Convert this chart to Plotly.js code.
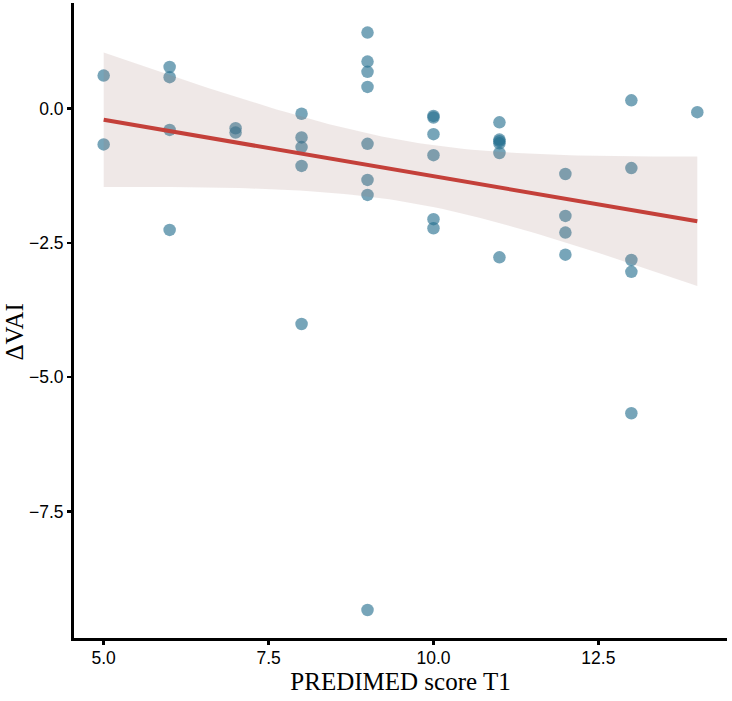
<!DOCTYPE html>
<html>
<head>
<meta charset="utf-8">
<script src="https://cdn.plot.ly/plotly-3.0.1.min.js"></script>
<style>
  html, body { margin: 0; padding: 0; background: #ffffff; }
  #chart { width: 732px; height: 701px; }
</style>
</head>
<body>
<div id="chart"></div>
<script>
// PREDIMED adherence score at T1 (x) against change in visceral adiposity index (y)
const predimedScore = [
  5, 5,
  6, 6, 6, 6,
  7, 7,
  8, 8, 8, 8, 8,
  9, 9, 9, 9, 9, 9, 9, 9,
  10, 10, 10, 10, 10, 10,
  11, 11, 11, 11, 11, 11,
  12, 12, 12, 12,
  13, 13, 13, 13, 13,
  14
];
const deltaVAI = [
  0.61, -0.67,
  0.77, 0.58, -0.40, -2.26,
  -0.37, -0.45,
  -0.10, -0.54, -0.72, -1.07, -4.01,
  1.41, 0.87, 0.68, 0.40, -0.66, -1.33, -1.61, -9.33,
  -0.14, -0.17, -0.48, -0.87, -2.06, -2.23,
  -0.26, -0.58, -0.61, -0.65, -0.83, -2.77,
  -1.22, -2.00, -2.31, -2.72,
  0.15, -1.11, -2.82, -3.04, -5.67,
  -0.07
];
const xTickLabels = ["5.0", "7.5", "10.0", "12.5"];
const xTickValues = [5, 7.5, 10, 12.5];
const yTickLabels = ["\u22127.5", "\u22125.0", "\u22122.5", "0.0"];
const yTickValues = [-7.5, -5, -2.5, 0];

// ---- ordinary least squares fit with 95% confidence band ----
function logGamma(z) {
  const g = 7;
  const c = [0.99999999999980993, 676.5203681218851, -1259.1392167224028,
    771.32342877765313, -176.61502916214059, 12.507343278686905,
    -0.13857109526572012, 9.9843695780195716e-6, 1.5056327351493116e-7];
  if (z < 0.5) return Math.log(Math.PI / Math.sin(Math.PI * z)) - logGamma(1 - z);
  z -= 1;
  let a = c[0];
  const t = z + g + 0.5;
  for (let i = 1; i < g + 2; i++) a += c[i] / (z + i);
  return 0.5 * Math.log(2 * Math.PI) + (z + 0.5) * Math.log(t) - t + Math.log(a);
}
function tCdf(t, nu) {
  const k = Math.exp(logGamma((nu + 1) / 2) - logGamma(nu / 2)) / Math.sqrt(nu * Math.PI);
  const n = 2000, h = t / n;
  let s = 0;
  for (let i = 0; i <= n; i++) {
    const x = i * h;
    const f = k * Math.pow(1 + x * x / nu, -(nu + 1) / 2);
    s += (i === 0 || i === n) ? f : (i % 2 ? 4 * f : 2 * f);
  }
  return 0.5 + s * h / 3;
}
function tQuantile(p, nu) {
  let lo = 0, hi = 10;
  for (let i = 0; i < 60; i++) {
    const mid = (lo + hi) / 2;
    if (tCdf(mid, nu) < p) lo = mid; else hi = mid;
  }
  return (lo + hi) / 2;
}

const n = predimedScore.length;
const mx = predimedScore.reduce((a, b) => a + b, 0) / n;
const my = deltaVAI.reduce((a, b) => a + b, 0) / n;
let sxx = 0, sxy = 0;
for (let i = 0; i < n; i++) {
  sxx += (predimedScore[i] - mx) ** 2;
  sxy += (predimedScore[i] - mx) * (deltaVAI[i] - my);
}
const slope = sxy / sxx;
const intercept = my - slope * mx;
let sse = 0;
for (let i = 0; i < n; i++) sse += (deltaVAI[i] - intercept - slope * predimedScore[i]) ** 2;
const sigma = Math.sqrt(sse / (n - 2));
const tCrit = tQuantile(0.975, n - 2);

const xMin = Math.min(...predimedScore), xMax = Math.max(...predimedScore);
const gridX = [], fitY = [], upperY = [], lowerY = [];
for (let i = 0; i < 80; i++) {
  const x = xMin + (xMax - xMin) * i / 79;
  const yhat = intercept + slope * x;
  const se = sigma * Math.sqrt(1 / n + (x - mx) ** 2 / sxx);
  gridX.push(x); fitY.push(yhat);
  upperY.push(yhat + tCrit * se); lowerY.push(yhat - tCrit * se);
}

const points = {
  type: 'scatter', mode: 'markers',
  x: predimedScore, y: deltaVAI,
  marker: { size: 12.5, color: 'rgba(35,110,142,0.62)', line: { width: 0 } },
  hoverinfo: 'x+y', showlegend: false
};
const band = {
  type: 'scatter', mode: 'lines',
  x: gridX.concat(gridX.slice().reverse()),
  y: upperY.concat(lowerY.slice().reverse()),
  fill: 'toself', fillcolor: 'rgba(160,120,110,0.17)',
  line: { width: 0 }, hoverinfo: 'skip', showlegend: false
};
const fitLine = {
  type: 'scatter', mode: 'lines',
  x: gridX, y: fitY,
  line: { color: '#C4403A', width: 4 },
  hoverinfo: 'skip', showlegend: false
};

const tickFont = { family: '"Liberation Sans", Arial, sans-serif', size: 17.5, color: '#000000' };
const titleFont = { family: '"Liberation Serif", "Times New Roman", serif', size: 25, color: '#000000' };

const layout = {
  width: 732, height: 701,
  margin: { l: 74, r: 5, t: 3, b: 63, pad: 0 },
  paper_bgcolor: '#ffffff', plot_bgcolor: '#ffffff',
  showlegend: false,
  xaxis: {
    range: [4.55, 14.45],
    tickmode: 'array', tickvals: xTickValues, ticktext: xTickLabels,
    ticks: 'outside', ticklen: 4, tickwidth: 2.5, tickcolor: '#000000',
    ticklabelstandoff: -2,
    showline: true, linecolor: '#000000', linewidth: 3,
    showgrid: false, zeroline: false,
    tickfont: tickFont,
    title: { text: 'PREDIMED score T1', font: titleFont, standoff: 2 }
  },
  yaxis: {
    range: [-9.85, 1.96],
    tickmode: 'array', tickvals: yTickValues, ticktext: yTickLabels,
    ticks: 'outside', ticklen: 4, tickwidth: 2.5, tickcolor: '#000000',
    showline: true, linecolor: '#000000', linewidth: 3,
    showgrid: false, zeroline: false,
    tickfont: tickFont
  },
  annotations: [{
    text: '\u0394VAI', textangle: -90,
    xref: 'paper', yref: 'paper', x: -0.091, y: 0.482,
    xanchor: 'center', yanchor: 'middle', showarrow: false,
    font: titleFont
  }]
};

Plotly.newPlot('chart', [points, band, fitLine], layout, { displayModeBar: false, staticPlot: true });
</script>
</body>
</html>
